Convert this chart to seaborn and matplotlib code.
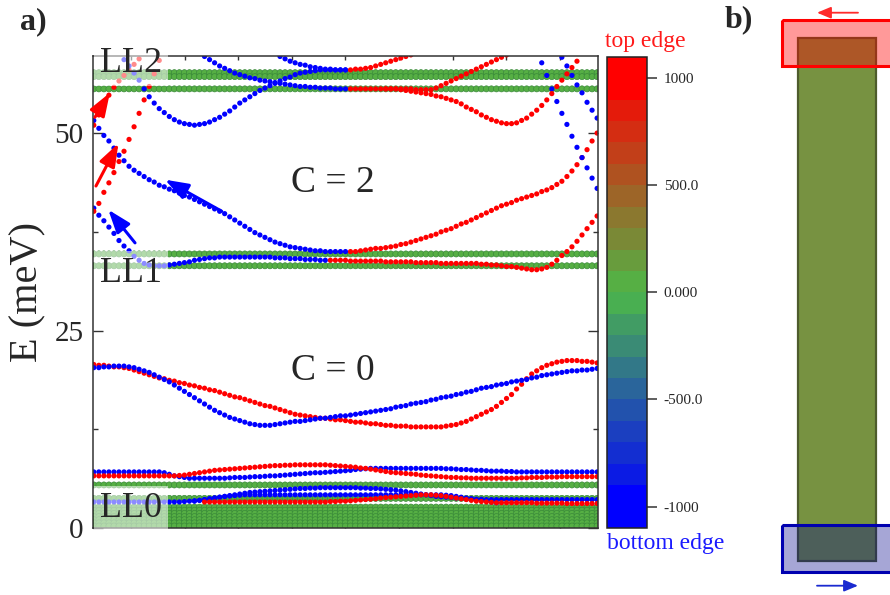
import numpy as np
import pandas as pd
import matplotlib
matplotlib.use("Agg")
import matplotlib.pyplot as plt
from matplotlib.colors import LinearSegmentedColormap, ListedColormap, BoundaryNorm
from matplotlib.patches import Rectangle
import seaborn as sns

sns.set_style("ticks")
plt.rcParams["font.family"] = ["Liberation Serif", "DejaVu Serif"]

# ---------------------------------------------------------------- data
# momentum along the ribbon (arb. units), one sample per dot column
k = np.linspace(-4.7, 4.7, 101)

# dispersionless bulk Landau levels (meV)
ll2_levels = [57.65, 57.15, 55.6]
ll1_levels = [34.7, 33.2]
ll0_levels = [5.45, 3.75, 2.65, 2.25, 1.85, 1.45, 1.05, 0.65, 0.25]

# edge polarisation of each branch: +1000 top edge, -1000 bottom edge
TOP, BOTTOM, BULK = 1000.0, -1000.0, 0.0

# C = 0 gap, two full-width branches
c0_top = [20.7, 20.6, 20.6, 20.5, 20.4, 20.4, 20.3, 20.2, 20.0, 19.8,
          19.6, 19.4, 19.2, 19.0, 18.9, 18.7, 18.6, 18.4, 18.3, 18.1,
          18.0, 17.8, 17.7, 17.5, 17.4, 17.2, 17.0, 16.8, 16.6, 16.5,
          16.3, 16.1, 15.9, 15.7, 15.5, 15.4, 15.2, 15.0, 14.8, 14.6,
          14.4, 14.3, 14.2, 14.1, 14.0, 13.9, 13.9, 13.8, 13.7, 13.7,
          13.6, 13.5, 13.4, 13.4, 13.3, 13.2, 13.2, 13.1, 13.0, 13.0,
          12.9, 12.9, 12.9, 12.8, 12.8, 12.8, 12.8, 12.8, 12.8, 12.8,
          12.9, 13.0, 13.1, 13.3, 13.5, 13.8, 14.1, 14.4, 14.7, 15.0,
          15.4, 15.9, 16.4, 16.9, 17.6, 18.2, 18.9, 19.5, 19.9, 20.3,
          20.6, 20.8, 21.0, 21.1, 21.2, 21.2, 21.2, 21.1, 21.1, 21.0, 20.9]
c0_bottom = [20.3, 20.3, 20.4, 20.4, 20.5, 20.5, 20.5, 20.4, 20.3, 20.1,
             19.9, 19.7, 19.4, 19.1, 18.8, 18.5, 18.1, 17.7, 17.3, 16.9,
             16.5, 16.1, 15.7, 15.3, 14.9, 14.6, 14.3, 14.0, 13.8, 13.6,
             13.4, 13.2, 13.1, 13.0, 13.0, 13.0, 13.1, 13.2, 13.3, 13.4,
             13.5, 13.5, 13.6, 13.7, 13.8, 13.9, 13.9, 14.0, 14.1, 14.2,
             14.2, 14.3, 14.4, 14.5, 14.6, 14.7, 14.8, 14.9, 15.0, 15.1,
             15.3, 15.4, 15.5, 15.7, 15.8, 15.9, 16.0, 16.2, 16.3, 16.5,
             16.6, 16.7, 16.9, 17.0, 17.2, 17.3, 17.5, 17.7, 17.8, 17.9,
             18.1, 18.2, 18.3, 18.5, 18.6, 18.7, 18.8, 19.0, 19.1, 19.3,
             19.4, 19.5, 19.6, 19.7, 19.8, 19.9, 19.9, 20.0, 20.0, 20.1, 20.2]

# branches just above LL0
low_bottom_a = [7.1, 7.1, 7.1, 7.1, 7.1, 7.1, 7.1, 7.1, 7.1, 7.1,
                7.1, 7.1, 7.1, 7.1, 7.0, 6.8, 6.6, 6.5, 6.4, 6.3,
                6.3, 6.3, 6.3, 6.3, 6.3, 6.3, 6.3, 6.35, 6.4, 6.4,
                6.4, 6.45, 6.5, 6.5, 6.55, 6.6, 6.6, 6.65, 6.7, 6.75,
                6.8, 6.85, 6.9, 6.95, 7.0, 7.0, 7.05, 7.1, 7.15, 7.2,
                7.25, 7.3, 7.4, 7.45, 7.5, 7.55, 7.55, 7.55, 7.55, 7.55,
                7.55, 7.55, 7.55, 7.55, 7.55, 7.55, 7.55, 7.55, 7.55, 7.55,
                7.5, 7.5, 7.45, 7.4, 7.4, 7.35, 7.3, 7.3, 7.25, 7.2,
                7.2, 7.2, 7.15, 7.15, 7.1, 7.1, 7.1, 7.1, 7.1, 7.1,
                7.1, 7.1, 7.1, 7.1, 7.1, 7.1, 7.1, 7.1, 7.1, 7.1, 7.1]
low_top_a = [6.6, 6.6, 6.6, 6.6, 6.6, 6.6, 6.6, 6.6, 6.6, 6.6,
             6.6, 6.6, 6.6, 6.6, 6.6, 6.6, 6.6, 6.65, 6.7, 6.8,
             6.9, 7.0, 7.1, 7.2, 7.3, 7.35, 7.4, 7.45, 7.5, 7.55,
             7.6, 7.65, 7.7, 7.75, 7.8, 7.85, 7.9, 7.9, 7.95, 7.95,
             8.0, 8.0, 8.0, 8.0, 8.0, 8.0, 8.0, 7.95, 7.9, 7.85,
             7.8, 7.75, 7.7, 7.6, 7.55, 7.45, 7.35, 7.25, 7.15, 7.05,
             7.0, 6.95, 6.9, 6.85, 6.8, 6.7, 6.65, 6.6, 6.55, 6.5,
             6.45, 6.4, 6.4, 6.35, 6.35, 6.3, 6.3, 6.3, 6.3, 6.3,
             6.3, 6.3, 6.3, 6.3, 6.3, 6.35, 6.35, 6.4, 6.4, 6.4,
             6.45, 6.45, 6.45, 6.5, 6.5, 6.5, 6.5, 6.5, 6.5, 6.5, 6.5]
low_bottom_b = [3.3, 3.3, 3.3, 3.3, 3.3, 3.3, 3.3, 3.3, 3.3, 3.3,
                3.3, 3.3, 3.3, 3.3, 3.3, 3.3, 3.3, 3.3, 3.35, 3.4,
                3.45, 3.5, 3.6, 3.7, 3.8, 3.9, 4.0, 4.1, 4.2, 4.3,
                4.4, 4.5, 4.55, 4.6, 4.65, 4.7, 4.75, 4.8, 4.85, 4.9,
                4.95, 5.0, 5.0, 5.05, 5.05, 5.1, 5.1, 5.1, 5.1, 5.1,
                5.1, 5.1, 5.1, 5.05, 5.05, 5.0, 5.0, 4.95, 4.9, 4.85,
                4.8, 4.7, 4.6, 4.5, 4.4, 4.3, 4.2, 4.1, 4.0, 3.95,
                3.9, 3.85, 3.8, 3.75, 3.7, 3.7, 3.65, 3.65, 3.6, 3.6,
                3.6, 3.6, 3.6, 3.6, 3.6, 3.6, 3.6, 3.6, 3.6, 3.6,
                3.6, 3.6, 3.6, 3.6, 3.6, 3.6, 3.6, 3.6, 3.6, 3.6, 3.6]
low_bottom_c = [3.4, 3.5, 3.6, 3.7, 3.8, 3.9, 4.0, 4.05, 4.1, 4.15,
                4.2, 4.2, 4.2, 4.2, 4.2, 4.2, 4.2, 4.2, 4.2, 4.2,
                4.2, 4.2, 4.2, 4.2, 4.2, 4.2, 4.2, 4.2, 4.2, 4.2,
                4.2, 4.2, 4.2, 4.2, 4.2, 4.2, 4.2, 4.2, 4.2, 4.2,
                4.2, 4.2, 4.2, 4.2, 4.2, 4.2, 4.2, 4.2, 4.2, 4.2,
                4.15, 4.1, 4.0, 3.9, 3.8, 3.7, 3.6, 3.5, 3.4, 3.3, 3.2]
low_top_b = [3.3, 3.3, 3.3, 3.3, 3.3, 3.3, 3.3, 3.3, 3.3, 3.3,
             3.3, 3.3, 3.3, 3.3, 3.3, 3.3, 3.3, 3.3, 3.3, 3.3,
             3.3, 3.3, 3.3, 3.3, 3.3, 3.35, 3.35, 3.4, 3.4, 3.45,
             3.5, 3.55, 3.6, 3.65, 3.7, 3.8, 3.85, 3.9, 3.95, 4.0,
             4.05, 4.1, 4.15, 4.2, 4.2, 4.2, 4.15, 4.1, 4.0, 3.9,
             3.8, 3.7, 3.6, 3.5, 3.4, 3.35, 3.3, 3.25, 3.2, 3.2,
             3.2, 3.2, 3.2, 3.2, 3.2, 3.2, 3.15, 3.15, 3.15, 3.15,
             3.15, 3.15, 3.1, 3.1, 3.1, 3.1, 3.1, 3.1, 3.1]

# C = 2 gap: main arc (bottom edge left of k=0, top edge right of it)
arc_bottom = [51.6, 50.6, 49.7, 49.0, 48.1, 47.2, 46.5, 45.8, 45.3, 44.9,
              44.5, 44.1, 43.8, 43.4, 43.2, 42.9, 42.7, 42.4, 42.1, 41.9,
              41.6, 41.3, 41.0, 40.7, 40.4, 40.1, 39.8, 39.4, 39.0, 38.6,
              38.2, 37.8, 37.4, 37.1, 36.8, 36.5, 36.2, 36.0, 35.8, 35.6,
              35.5, 35.4, 35.3, 35.2, 35.1, 35.1, 35.0, 35.0, 35.0, 35.0, 35.0]
arc_top = [35.0, 35.0, 35.1, 35.2, 35.3, 35.4, 35.4, 35.5, 35.6,
           35.7, 35.9, 36.0, 36.2, 36.4, 36.6, 36.8, 37.0, 37.2, 37.5,
           37.7, 37.9, 38.2, 38.5, 38.7, 39.0, 39.3, 39.6, 39.9, 40.2,
           40.5, 40.8, 41.0, 41.2, 41.5, 41.7, 41.9, 42.1, 42.3, 42.6,
           42.8, 43.1, 43.5, 43.9, 44.5, 45.2, 46.0, 46.9, 47.9, 49.0, 50.0]

# branch hugging LL1
ll1_bottom = [40.5, 39.6, 38.9, 38.1, 37.3, 36.4, 35.7, 35.1, 34.4, 33.9,
              33.5, 33.3, 33.2, 33.2, 33.2, 33.3, 33.4, 33.5, 33.6, 33.7,
              33.9, 34.0, 34.1, 34.2, 34.2, 34.3, 34.3, 34.3, 34.3, 34.3,
              34.3, 34.3, 34.3, 34.3, 34.3, 34.3, 34.2, 34.2, 34.2, 34.1,
              34.1, 34.1, 34.0, 34.0, 34.0, 33.9, 33.9]
ll1_top = [33.9, 33.9, 33.9, 33.9,
           33.8, 33.8, 33.8, 33.8, 33.8, 33.8, 33.8, 33.7, 33.7, 33.7,
           33.7, 33.7, 33.7, 33.6, 33.6, 33.6, 33.6, 33.6, 33.5, 33.5,
           33.5, 33.5, 33.5, 33.5, 33.5, 33.5, 33.4, 33.4, 33.3, 33.3,
           33.2, 33.1, 33.1, 33.0, 32.9, 32.8, 32.7, 32.7, 32.8, 33.0,
           33.4, 33.9, 34.5, 35.0, 35.6, 36.3, 37.1, 37.9, 38.7, 39.5]

# steep chiral branches at the zone boundary
steep_top_outer = [40.1, 41.1, 42.5, 43.7, 45.0, 46.4, 47.7, 49.2, 50.8, 52.5,
                   54.2, 55.9, 57.5, 59.2]
steep_top_inner = [51.0, 52.3, 53.6, 54.8, 55.8, 56.6, 57.3, 58.0, 58.7, 59.4]
steep_bottom_outer = [58.9, 57.3, 55.6, 54.0, 52.5, 51.1, 49.6, 48.2, 46.9,
                      45.6, 44.3, 43.0]
steep_bottom_inner = [59.6, 58.5, 57.3, 56.1, 55.1, 53.9, 52.9, 51.9]

# branches around LL2
dip_bottom = [59.3, 58.5, 57.6, 56.7, 55.6, 54.6, 53.8, 53.1, 52.6, 52.1,
              51.7, 51.4, 51.2, 51.1, 51.0, 51.1, 51.2, 51.4, 51.7, 52.0,
              52.4, 52.8, 53.3, 53.8, 54.2, 54.6, 55.0, 55.4, 55.7, 56.0,
              56.3, 56.6, 56.9, 57.1, 57.4, 57.6, 57.7, 57.8, 57.9, 58.0,
              58.0, 58.0, 58.0, 58.0, 58.0]
dip_top = [55.6, 55.6, 55.6, 55.5, 55.4, 55.3, 55.2, 55.1, 55.0, 54.9,
           54.7, 54.6, 54.4, 54.2, 54.0, 53.7, 53.3, 53.0, 52.7, 52.3,
           52.0, 51.7, 51.5, 51.3, 51.2, 51.2, 51.3, 51.6, 51.9, 52.4,
           52.9, 53.5, 54.2, 55.0, 55.9, 56.7, 57.5, 58.3, 59.1]
upper_bottom_a = [59.7, 59.4, 59.1, 58.9, 58.7, 58.6, 58.4, 58.3, 58.2, 58.1,
                  58.1, 58.0, 58.0, 58.0]
upper_top_a = [58.0, 58.1, 58.1, 58.2, 58.3, 58.5, 58.7, 58.9, 59.1, 59.3,
               59.5, 59.7, 59.9]
upper_bottom_b = [59.7, 59.3, 58.9, 58.5, 58.2, 57.9, 57.6, 57.4, 57.2, 57.0,
                  56.9, 56.7, 56.6, 56.5, 56.4, 56.3, 56.2, 56.1, 56.0, 55.9,
                  55.9, 55.8, 55.8, 55.7, 55.7, 55.7, 55.6, 55.6, 55.6]
upper_top_b = [55.6, 55.6, 55.6, 55.6, 55.6, 55.6, 55.6, 55.6, 55.6, 55.6,
               55.6, 55.6, 55.6, 55.5, 55.5, 55.5, 55.5, 55.7, 56.0, 56.3,
               56.6, 56.9, 57.2, 57.5, 57.8, 58.1, 58.4, 58.7, 59.0, 59.3,
               59.6, 59.9]

# (first k index, polarisation, energies)
edge_branches = [
    (0, TOP, c0_top), (0, BOTTOM, c0_bottom),
    (0, BOTTOM, low_bottom_a), (0, TOP, low_top_a),
    (0, BOTTOM, low_bottom_b), (20, BOTTOM, low_bottom_c), (22, TOP, low_top_b),
    (0, BOTTOM, arc_bottom), (51, TOP, arc_top),
    (0, BOTTOM, ll1_bottom), (47, TOP, ll1_top),
    (0, TOP, steep_top_outer), (0, TOP, steep_top_inner),
    (89, BOTTOM, steep_bottom_outer), (93, BOTTOM, steep_bottom_inner),
    (6, BOTTOM, dip_bottom), (58, TOP, dip_top),
    (37, BOTTOM, upper_bottom_a), (51, TOP, upper_top_a),
    (22, BOTTOM, upper_bottom_b), (51, TOP, upper_top_b),
]

bulk = pd.concat(
    [pd.DataFrame({"k": k, "E": lvl, "pol": BULK})
     for lvl in ll2_levels + ll1_levels + ll0_levels],
    ignore_index=True)
edges = pd.concat(
    [pd.DataFrame({"k": k[s:s + len(v)], "E": v, "pol": p})
     for s, p, v in edge_branches],
    ignore_index=True)

# colour scale: discrete 100-wide bands between bottom (blue) and top (red)
cbar_ticks = [-1000, -500, 0, 500, 1000]
cbar_labels = ["-1000", "-500.0", "0.000", "500.0", "1000"]
band_edges = np.concatenate([[-1100], np.arange(-900, 901, 100), [1100]])
base = LinearSegmentedColormap.from_list("edge", ["#0000ff", "#4db848", "#ff0000"])
centres = np.concatenate([[-1000], np.arange(-850, 851, 100), [1000]])
cmap = ListedColormap(base((centres + 1000) / 2000))
norm = BoundaryNorm(band_edges, cmap.N)

# ---------------------------------------------------------------- figure
fig = plt.figure(figsize=(8.9, 5.95), dpi=100)
ax = fig.add_axes([0.1048, 0.1126, 0.5667, 0.7938])
cax = fig.add_axes([0.682, 0.1126, 0.0449, 0.7921])

sns.scatterplot(data=bulk, x="k", y="E", hue="pol", palette=cmap, hue_norm=norm,
                s=19, linewidth=0.5, edgecolor="#3a8a3a", legend=False, ax=ax,
                zorder=1)
sns.scatterplot(data=edges, x="k", y="E", hue="pol", palette=cmap, hue_norm=norm,
                s=14, linewidth=0, legend=False, ax=ax, zorder=2)

ax.set_xlim(-4.71, 4.71)
ax.set_ylim(0, 59.8)
ax.set_xticks(np.arange(-4, 5))
ax.set_yticks([0, 25, 50])
ax.set_yticks([12.5, 37.5], minor=True)
ax.set_xlabel("")
ax.set_ylabel("E (meV)", fontsize=29, labelpad=6)
ax.tick_params(axis="x", which="major", direction="in", length=3.2, width=1,
               top=True, bottom=True, labelbottom=False, color="#333333")
ax.tick_params(axis="y", which="major", direction="in", length=7, width=1,
               left=True, right=True, labelsize=21, pad=7, color="#333333")
ax.tick_params(axis="y", which="minor", direction="in", length=3.6, width=1,
               left=True, right=True, color="#333333")
for sp in ax.spines.values():
    sp.set_color("#333333")
    sp.set_linewidth(1.1)

box = dict(boxstyle="square,pad=0.17", fc="white", ec="none", alpha=0.55)
ax.text(-4.585, 57.7, "LL2", fontsize=26, va="baseline", bbox=box, zorder=5)
ax.text(-4.585, 31.1, "LL1", fontsize=26, va="baseline", bbox=box, zorder=5)
ax.text(-4.585, 1.4, "LL0", fontsize=26, va="baseline", bbox=box, zorder=5)
ax.text(-0.24, 42.6, "C = 2", fontsize=27, ha="center", va="baseline")
ax.text(-0.24, 18.7, "C = 0", fontsize=27, ha="center", va="baseline")

arrow_kw = dict(arrowstyle="-|>,head_length=0.7,head_width=0.25", lw=2.2,
                mutation_scale=20, shrinkA=0, shrinkB=0)
for (x0, y0), (x1, y1), col in [
        ((-4.68, 52.0), (-4.40, 55.1), "#ff0000"),
        ((-4.66, 43.3), (-4.24, 48.7), "#ff0000"),
        ((-3.93, 36.1), (-4.43, 40.3), "#0000ff"),
        ((-2.31, 40.1), (-3.37, 44.1), "#0000ff")]:
    ax.annotate("", xy=(x1, y1), xytext=(x0, y0),
                arrowprops=dict(color=col, **arrow_kw), zorder=6)

# colour bar
sm = plt.cm.ScalarMappable(norm=norm, cmap=cmap)
cb = fig.colorbar(sm, cax=cax, spacing="proportional", ticks=cbar_ticks)
cb.set_ticklabels(cbar_labels)
cb.minorticks_off()
cb.outline.set_linewidth(1.1)
cb.outline.set_edgecolor("#222222")
cax.tick_params(which="major", direction="out", length=7, width=1.1,
                labelsize=11, pad=5, color="#333333")
cax.tick_params(which="minor", length=0)
fig.text(605 / 890, 1 - 47 / 595, "top edge", color="#ff1a1a", fontsize=17,
         va="baseline")
fig.text(607 / 890, 1 - 549 / 595, "bottom edge", color="#1a1aff", fontsize=17,
         va="baseline")

# panel labels
fig.text(20 / 890, 1 - 29 / 595, "a)", fontsize=23, fontweight="bold", va="baseline")
fig.text(725 / 890, 1 - 27 / 595, "b)", fontsize=23, fontweight="bold", va="baseline")

# panel b: schematic ribbon with its two edges
axb = fig.add_axes([740 / 890, 0, 150 / 890, 1])
axb.set_xlim(740, 890)
axb.set_ylim(595, 0)
axb.axis("off")
axb.add_patch(Rectangle((798, 38), 78, 523, fc="#779241", ec="#4e5c2c", lw=1.6))
axb.add_patch(Rectangle((782, 20), 130, 46, fc="#ff0000", alpha=0.4, lw=0))
axb.add_patch(Rectangle((782, 20), 130, 46, fc="none", ec="#ff0000", lw=2.2))
axb.add_patch(Rectangle((782, 525), 130, 46.5, fc="#00008b", alpha=0.35, lw=0))
axb.add_patch(Rectangle((782, 525), 130, 46.5, fc="none", ec="#0000b0", lw=2.2))
small_arrow = dict(arrowstyle="-|>,head_length=0.6,head_width=0.25", lw=1.3,
                   mutation_scale=14, shrinkA=0, shrinkB=0)
axb.annotate("", xy=(817, 12.7), xytext=(858, 12.7),
             arrowprops=dict(color="#ff2a2a", **small_arrow))
axb.annotate("", xy=(858, 585.7), xytext=(817, 585.7),
             arrowprops=dict(color="#1a2ad0", **small_arrow))

fig.savefig("out.png", dpi=100)
